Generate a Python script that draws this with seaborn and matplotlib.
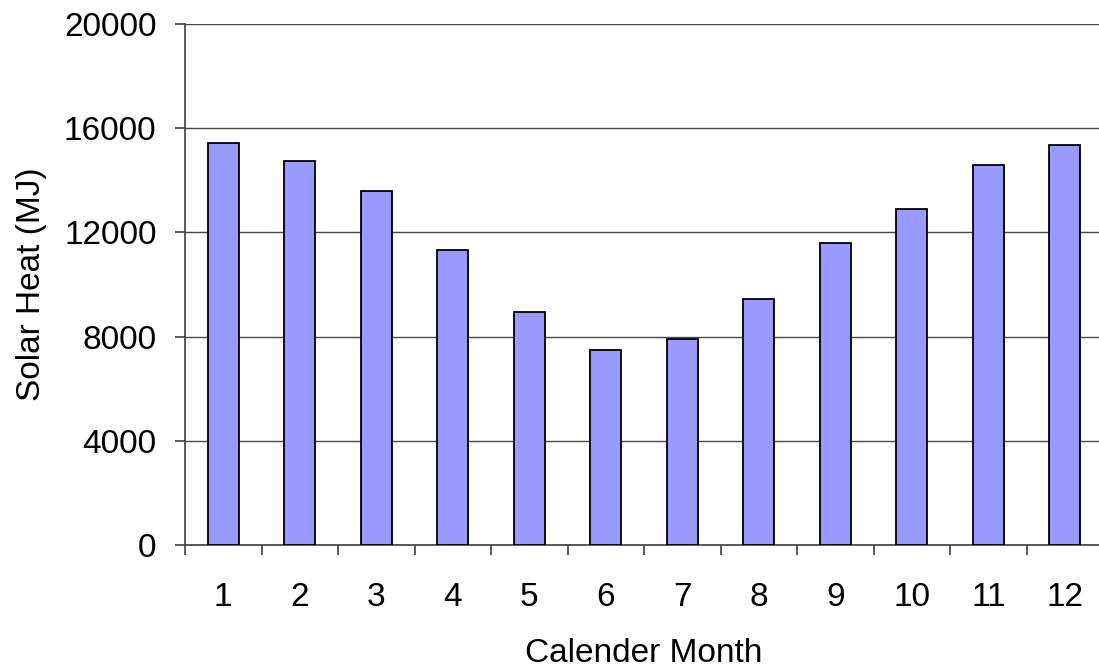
import matplotlib
matplotlib.use("Agg")
import matplotlib.pyplot as plt
from matplotlib.ticker import FixedLocator
import seaborn as sns
import pandas as pd

# Monthly solar heat totals
months = ["1", "2", "3", "4", "5", "6", "7", "8", "9", "10", "11", "12"]
solar_heat = [15420, 14760, 13600, 11340, 8950, 7500, 7910, 9445, 11590, 12900, 14570, 15355]
y_ticks = [0, 4000, 8000, 12000, 16000, 20000]

df = pd.DataFrame({"month": months, "heat": solar_heat})

sns.set_style("white")
plt.rcParams["font.family"] = ["Liberation Sans", "DejaVu Sans"]
plt.rcParams["text.color"] = "black"
plt.rcParams["axes.labelcolor"] = "black"
plt.rcParams["xtick.labelcolor"] = "black"
plt.rcParams["ytick.labelcolor"] = "black"

W, H = 1099, 669
fig = plt.figure(figsize=(W / 100, H / 100), dpi=100)
ax = fig.add_axes([185 / W, (H - 545) / H, 918 / W, 521 / H])

sns.barplot(data=df, x="month", y="heat", order=months, color="#9999FF",
            edgecolor="black", linewidth=1.3, width=0.4, saturation=1,
            zorder=3, ax=ax)

ax.set_xlim(-0.5, len(months) - 0.5)
ax.set_ylim(0, 20000)
ax.set_yticks(y_ticks)
ax.set_yticklabels([str(v) for v in y_ticks])

# horizontal gridlines
ax.yaxis.grid(True, color="#4a4a4a", linewidth=1.0, zorder=0)
ax.xaxis.grid(False)
ax.set_axisbelow(True)

for side in ("top", "right"):
    ax.spines[side].set_visible(False)
for side in ("left", "bottom"):
    ax.spines[side].set_color("#404040")
    ax.spines[side].set_linewidth(1.2)

# category boundary ticks on x, labels at centers
ax.xaxis.set_minor_locator(FixedLocator([i - 0.5 for i in range(len(months) + 1)]))
ax.tick_params(axis="x", which="minor", length=7.5, width=1.2, color="#404040",
               direction="out", bottom=True)
ax.tick_params(axis="x", which="major", length=0, pad=27, labelsize=24,
               labelcolor="black")
ax.tick_params(axis="y", which="major", length=7.5, width=1.2, color="#404040",
               direction="out", left=True, pad=13, labelsize=24,
               labelcolor="black")

ax.set_xlabel("Calender Month", fontsize=24, labelpad=18, color="black")
ax.set_ylabel("Solar Heat (MJ)", fontsize=24, labelpad=12, color="black")

fig.savefig("out.png", dpi=100, facecolor="white")
